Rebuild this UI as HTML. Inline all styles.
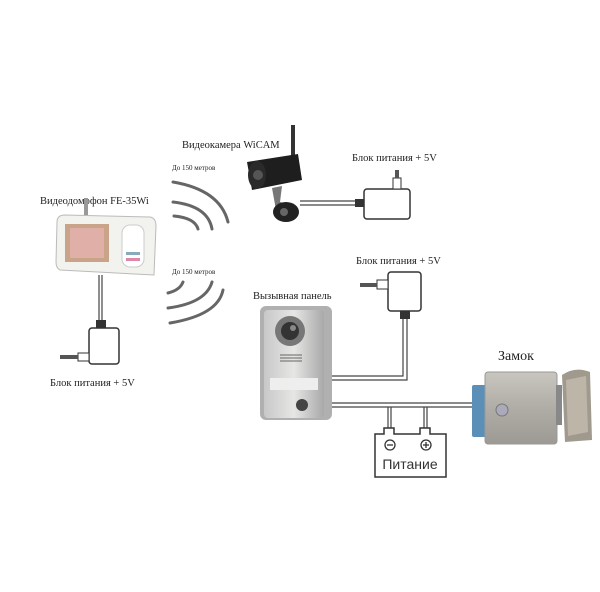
<!DOCTYPE html>
<html><head><meta charset="utf-8"><style>
html,body{margin:0;padding:0;background:#fff;}
svg{display:block;}
.s{font-family:"Liberation Serif","DejaVu Serif",serif;fill:#222;}
</style></head><body>
<svg width="600" height="592" viewBox="0 0 600 592" xmlns="http://www.w3.org/2000/svg">
<defs>
<linearGradient id="silver" x1="0" y1="0" x2="1" y2="0"><stop offset="0" stop-color="#c8c8c8"/><stop offset="0.5" stop-color="#e6e6e4"/><stop offset="1" stop-color="#a9a9a9"/></linearGradient>
<linearGradient id="lock" x1="0" y1="0" x2="0" y2="1"><stop offset="0" stop-color="#c9c6c0"/><stop offset="0.5" stop-color="#b0aca6"/><stop offset="1" stop-color="#9d9a95"/></linearGradient>
</defs>
<text class="s" x="182" y="148" font-size="10.5">Видеокамера WiCAM</text>
<text class="s" x="352" y="161" font-size="10.5">Блок питания + 5V</text>
<text class="s" x="172" y="170" font-size="7">До 150 метров</text>
<text class="s" x="172" y="274" font-size="7">До 150 метров</text>
<text class="s" x="40" y="204" font-size="10.5">Видеодомофон FE-35Wi</text>
<text class="s" x="50" y="386" font-size="10.5">Блок питания + 5V</text>
<text class="s" x="253" y="299" font-size="10.5">Вызывная панель</text>
<text class="s" x="356" y="264" font-size="10.5">Блок питания + 5V</text>
<text class="s" x="498" y="360" font-size="14">Замок</text>

<g fill="none" stroke="#666" stroke-width="3" stroke-linecap="round">
<path d="M173 182 Q220 190 228 222"/>
<path d="M173 202 Q208 206 212 229"/>
<path d="M174 216 Q195 218 198 229"/>
<path d="M170 323 Q218 315 223 290"/>
<path d="M168 308 Q206 303 212 282"/>
<path d="M168 293 Q180 290 183 282"/>
</g>

<!-- camera -->
<rect x="291" y="125" width="4" height="35" fill="#333"/>
<path d="M247 162 L298 154 L302 180 L252 190 Z" fill="#1e1e1e"/>
<ellipse cx="257" cy="175" rx="9" ry="14" fill="#2a2a2a"/>
<circle cx="258" cy="175" r="5" fill="#555"/>
<path d="M272 188 L282 186 L280 202 L292 205 L290 212 L276 210 Z" fill="#777"/>
<ellipse cx="286" cy="212" rx="13" ry="10" fill="#222"/>
<circle cx="284" cy="212" r="4" fill="#666"/>
<g stroke="#444" stroke-width="1.3" fill="none">
<line x1="300" y1="201" x2="360" y2="201"/><line x1="300" y1="205" x2="360" y2="205"/>
</g>
<rect x="355" y="199" width="10" height="8" fill="#333"/>
<rect x="364" y="189" width="46" height="30" rx="3" fill="#fff" stroke="#333" stroke-width="1.5"/>
<rect x="393" y="178" width="8" height="11" fill="#fff" stroke="#333"/>
<rect x="395" y="170" width="4" height="8" fill="#555"/>

<!-- monitor -->
<rect x="84" y="198" width="4" height="22" fill="#999"/>
<path d="M57 222 Q57 215 65 215 L150 217 Q156 218 156 226 L154 275 L60 270 Q56 268 56 262 Z" fill="#f2f2ee" stroke="#bbb"/>
<rect x="65" y="224" width="44" height="38" fill="#c9a489"/>
<rect x="70" y="228" width="34" height="30" fill="#e0b0a8"/>
<rect x="122" y="225" width="22" height="42" rx="8" fill="#fff" stroke="#ccc"/>
<rect x="126" y="252" width="14" height="3" fill="#8ab"/>
<rect x="126" y="258" width="14" height="3" fill="#d8a"/>
<g stroke="#444" stroke-width="1.2"><line x1="99" y1="275" x2="99" y2="322"/><line x1="102" y1="275" x2="102" y2="322"/></g>
<rect x="96" y="320" width="10" height="8" fill="#333"/>
<rect x="89" y="328" width="30" height="36" rx="3" fill="#fff" stroke="#333" stroke-width="1.5"/>
<rect x="78" y="353" width="11" height="8" fill="#fff" stroke="#333"/>
<rect x="60" y="355" width="18" height="4" fill="#555"/>

<!-- call panel -->
<rect x="260" y="306" width="72" height="114" rx="6" fill="#b0b0b0"/>
<rect x="264" y="310" width="60" height="108" rx="4" fill="url(#silver)"/>
<circle cx="290" cy="331" r="15" fill="#777"/>
<circle cx="290" cy="331" r="9" fill="#333"/>
<circle cx="293" cy="328" r="3" fill="#888"/>
<g stroke="#666"><line x1="280" y1="355" x2="302" y2="355"/><line x1="280" y1="358" x2="302" y2="358"/><line x1="280" y1="361" x2="302" y2="361"/></g>
<rect x="270" y="378" width="48" height="12" fill="#eee"/>
<circle cx="302" cy="405" r="6" fill="#444"/>
<g stroke="#444" stroke-width="1.2" fill="none">
<polyline points="332,376 403,376 403,318"/>
<polyline points="332,380 407,380 407,318"/>
<line x1="332" y1="403" x2="474" y2="403"/>
<line x1="332" y1="407" x2="474" y2="407"/>
<line x1="388" y1="407" x2="388" y2="430"/><line x1="391" y1="407" x2="391" y2="430"/>
<line x1="424" y1="407" x2="424" y2="430"/><line x1="427" y1="407" x2="427" y2="430"/>
</g>
<rect x="400" y="310" width="10" height="9" fill="#333"/>
<rect x="388" y="272" width="33" height="39" rx="3" fill="#fff" stroke="#333" stroke-width="1.5"/>
<rect x="377" y="280" width="11" height="9" fill="#fff" stroke="#333"/>
<rect x="360" y="283" width="17" height="4" fill="#555"/>
<path d="M375 434 L384 434 L384 428 L394 428 L394 434 L420 434 L420 428 L430 428 L430 434 L446 434 L446 477 L375 477 Z" fill="#fff" stroke="#333" stroke-width="1.5"/>
<circle cx="390" cy="445" r="5" fill="none" stroke="#333" stroke-width="1.3"/><line x1="387" y1="445" x2="393" y2="445" stroke="#333" stroke-width="1.3"/>
<circle cx="426" cy="445" r="5" fill="none" stroke="#333" stroke-width="1.3"/><line x1="423" y1="445" x2="429" y2="445" stroke="#333" stroke-width="1.3"/><line x1="426" y1="442" x2="426" y2="448" stroke="#333" stroke-width="1.3"/>
<text x="410" y="469" font-family="Liberation Sans, sans-serif" font-size="14" fill="#333" text-anchor="middle">Питание</text>

<!-- lock -->
<rect x="472" y="385" width="16" height="52" rx="2" fill="#5b8fb8"/>
<rect x="485" y="372" width="72" height="72" rx="3" fill="url(#lock)" stroke="#999"/>
<circle cx="502" cy="410" r="6" fill="#aab" stroke="#777"/>
<rect x="556" y="385" width="6" height="40" fill="#888"/>
<path d="M562 375 Q575 366 590 372 L592 440 L565 442 Z" fill="#a09a8e"/>
<path d="M566 380 L586 376 L588 432 L568 436 Z" fill="#bdb5a8"/>
</svg>
</body></html>
